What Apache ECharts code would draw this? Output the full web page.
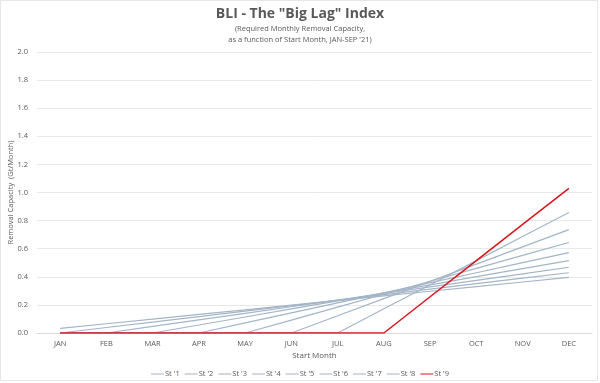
<!DOCTYPE html>
<html><head><meta charset="utf-8">
<script src="https://cdn.jsdelivr.net/npm/echarts@6/dist/echarts.min.js"></script>
<style>html,body{margin:0;padding:0;background:#fff}#c{width:600px;height:383px}</style>
</head><body><div id="c"></div>
<script>
const months = ['JAN','FEB','MAR','APR','MAY','JUN','JUL','AUG','SEP','OCT','NOV','DEC'];
const st1 = [0.033,0.066,0.099,0.132,0.165,0.198,0.231,0.264,0.297,0.330,0.363,0.396];
const st2 = [0,0.039,0.078,0.117,0.156,0.195,0.234,0.273,0.312,0.351,0.390,0.429];
const st3 = [0,0,0.047,0.094,0.140,0.187,0.234,0.281,0.328,0.375,0.421,0.468];
const st4 = [0,0,0,0.057,0.114,0.172,0.229,0.286,0.343,0.401,0.458,0.515];
const st5 = [0,0,0,0,0.072,0.143,0.215,0.286,0.358,0.429,0.501,0.572];
const st6 = [0,0,0,0,0,0.092,0.184,0.276,0.368,0.460,0.552,0.644];
const st7 = [0,0,0,0,0,0,0.123,0.245,0.368,0.490,0.613,0.736];
const st8 = [0,0,0,0,0,0,0,0.172,0.343,0.515,0.687,0.858];
const st9 = [0,0,0,0,0,0,0,0,0.258,0.515,0.773,1.030];
const seriesNames = ["St '1","St '2","St '3","St '4","St '5","St '6","St '7","St '8","St '9"];
const seriesData = [st1,st2,st3,st4,st5,st6,st7,st8,st9];
const yTicks = [0,0.2,0.4,0.6,0.8,1.0,1.2,1.4,1.6,1.8,2.0];

const FONT = '"Open Sans", Lato, sans-serif';
const GRAY = '#a3b5c7';
const RED = '#d9141b';
const chart = echarts.init(document.getElementById('c'), null, {renderer:'canvas'});
chart.setOption({
  animation: false,
  backgroundColor: '#fff',
  textStyle: {fontFamily: FONT},
  title: {
    text: 'BLI - The "Big Lag" Index',
    subtext: "(Required Monthly Removal Capacity,\nas a function of Start Month, JAN-SEP '21)",
    left: 'center', top: 1, itemGap: 0,
    textStyle: {fontFamily: FONT, fontSize: 14, fontWeight: 'bold', color: '#595959', lineHeight: 17},
    subtextStyle: {fontFamily: FONT, fontSize: 7.5, color: '#595959', lineHeight: 11, align: 'center'}
  },
  graphic: [{type:'rect', shape:{x:0.5,y:0.5,width:597,height:380}, style:{fill:'none', stroke:'#e6e6e6', lineWidth:1}, silent:true}],
  legend: {
    top: 365, left: 'center', itemWidth: 13, itemHeight: 1, itemGap: 5,
    icon: 'rect',
    textStyle: {fontFamily: FONT, fontSize: 7.5, color: '#595959', padding:[0,0,0,-4]},
    data: seriesNames
  },
  grid: {left: 37, right: 8, top: 52, bottom: 50, containLabel: false, outerBoundsMode: 'none'},
  xAxis: {
    type: 'category', data: months, boundaryGap: true,
    name: 'Start Month', nameLocation: 'middle', nameGap: 19, nameMoveOverlap: false,
    nameTextStyle: {fontFamily: FONT, fontSize: 8, color: '#595959'},
    axisLine: {lineStyle: {color: '#d9d9d9'}},
    axisTick: {show: false},
    axisLabel: {fontFamily: FONT, fontSize: 7.5, color: '#595959', margin: 7}
  },
  yAxis: {
    type: 'value', min: 0, max: 2, interval: 0.2,
    name: 'Removal Capacity  (Gt/Month)', nameLocation: 'middle', nameGap: 22, nameMoveOverlap: false,
    nameTextStyle: {fontFamily: FONT, fontSize: 7.5, color: '#595959'},
    axisLine: {show: false}, axisTick: {show: false},
    splitLine: {lineStyle: {color: '#e8e8e8'}},
    axisLabel: {fontFamily: FONT, fontSize: 7.5, color: '#595959', margin: 9,
      formatter: v => v.toFixed(1)}
  },
  series: seriesData.map((d, i) => ({
    name: seriesNames[i], type: 'line', data: d, symbol: 'none',
    z: i === 8 ? 10 : 2,
    lineStyle: {width: i === 8 ? 1.5 : 1.2, color: i === 8 ? RED : GRAY},
    itemStyle: {color: i === 8 ? RED : GRAY}
  }))
});
</script></body></html>
